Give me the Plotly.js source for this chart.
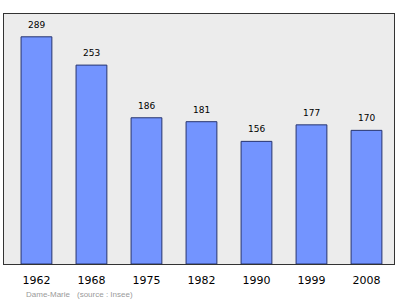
<!DOCTYPE html>
<html>
<head>
<meta charset="utf-8">
<script src="https://cdn.plot.ly/plotly-3.0.1.min.js"></script>
<style>html,body{margin:0;padding:0;background:#fff;}#chart{width:400px;height:299px;}</style>
</head>
<body>
<div id="chart"></div>
<script>
var years = ["1962", "1968", "1975", "1982", "1990", "1999", "2008"];
var population = [289, 253, 186, 181, 156, 177, 170];
var placeName = "Dame-Marie";
var sourceText = "(source : Insee)";

var trace = {
  type: "bar",
  x: years,
  y: population,
  marker: {color: "#7394ff", line: {color: "#27346e", width: 1}},
  width: 0.56,
  hoverinfo: "none"
};

var annotations = years.map(function (yr, i) {
  return {
    x: i, y: population[i], xref: "x", yref: "y",
    text: String(population[i]), showarrow: false,
    yanchor: "bottom", yshift: 5,
    font: {family: "DejaVu Sans, sans-serif", size: 9, color: "#000"}
  };
});
annotations.push({
  text: placeName, xref: "paper", yref: "paper", x: 0.0513, y: -0.12,
  xanchor: "left", yanchor: "middle", showarrow: false,
  font: {family: "Liberation Sans, sans-serif", size: 8, color: "#9a9a9a"}
});
annotations.push({
  text: sourceText, xref: "paper", yref: "paper", x: 0.182, y: -0.12,
  xanchor: "left", yanchor: "middle", showarrow: false,
  font: {family: "Liberation Sans, sans-serif", size: 8, color: "#9a9a9a"}
});

var layout = {
  width: 400, height: 299,
  margin: {l: 4, r: 6, t: 14, b: 35},
  paper_bgcolor: "#ffffff",
  plot_bgcolor: "#ececec",
  showlegend: false,
  xaxis: {
    type: "category",
    range: [-0.59, 6.5],
    showline: true, mirror: true, linecolor: "#333", linewidth: 1,
    ticks: "", showgrid: false, zeroline: false, ticklabelstandoff: 6,
    tickfont: {family: "DejaVu Sans, sans-serif", size: 11, color: "#000"}
  },
  yaxis: {
    range: [0, 318],
    showline: true, mirror: true, linecolor: "#333", linewidth: 1,
    showticklabels: false, ticks: "", showgrid: false, zeroline: false
  },
  annotations: annotations
};

Plotly.newPlot("chart", [trace], layout, {displayModeBar: false, staticPlot: true});
</script>
</body>
</html>
